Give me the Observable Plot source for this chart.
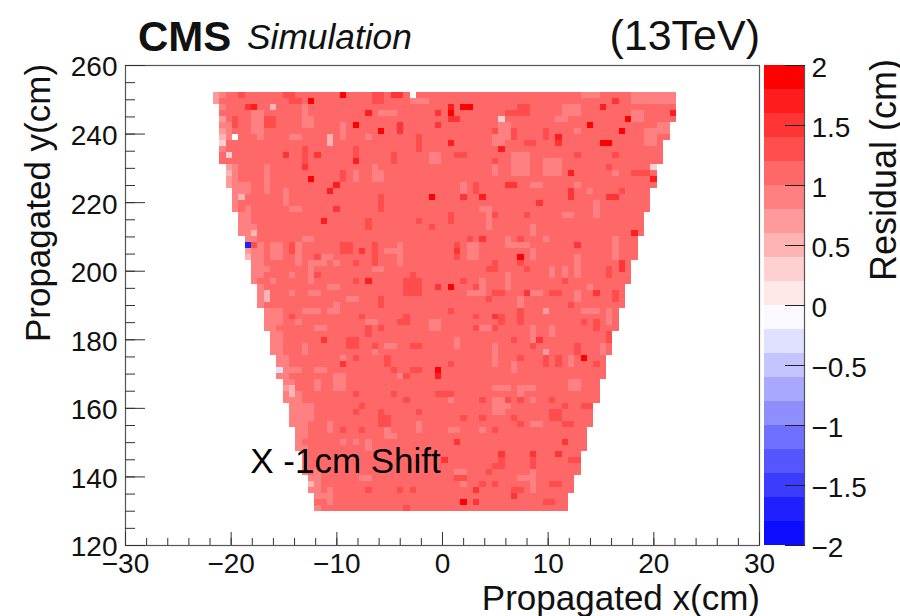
<!DOCTYPE html>
<html><head><meta charset="utf-8">
<script src="https://cdn.jsdelivr.net/npm/d3@7"></script>
<script src="https://cdn.jsdelivr.net/npm/@observablehq/plot@0.6"></script>
<style>
html,body{margin:0;background:#fff}
#c{position:relative;width:900px;height:616px;overflow:hidden;font-family:"Liberation Sans",Arial,sans-serif;color:#111}
#c svg{position:absolute;top:0;background:transparent}
#c span{position:absolute;white-space:nowrap;line-height:1}
</style></head><body><div id="c"></div>
<script>
// Heat-map cells. Rows run from the top; band d means residual 0.2*d .. 0.2*d+0.2.
const rowFirstCol=[0,0,1,1,1,1,1,1,1,1,1,1,2,2,2,2,3,3,3,3,4,4,4,4,5,5,5,5,6,6,6,6,7,7,7,7,8,8,8,8,9,9,9,9,10,10,10,10,11,11,11,11,12,12,12,12,13,13,13,13,14,14,14,14,15,15,15,16,16,16];
const rowEndCol=[73,73,73,73,73,72,72,72,71,71,71,71,70,70,70,70,69,69,69,69,68,68,68,68,67,67,67,67,66,66,66,66,65,65,65,65,64,64,64,64,63,63,63,63,62,62,62,62,61,61,61,61,60,60,60,60,59,59,59,59,58,58,58,58,57,57,57,56,56,56];
const baseBand=5;
// The first cells of each row, which are paler at the left edge.
const rowEdges=["34","35","45","55","35","34","34","24","25","45","55","55","34","24","34","34","45","44","45","45","44","44","44","44","44","46","34","34","44","44","44","45","45","44","45","45","44","44","44","44","44","44","44","44","44","44","44","44","44","34","44","44","44","44","444","444","44","44","45","44","45","45","45","45","45","44","44","45","55","45"];
// Paler and deeper patches: [first row, last row, first column, last column]
const paleRuns=[[2,4,14,14],[3,6,6,6],[3,7,7,7],[4,5,14,15],[7,7,12,13],[5,5,1,2],[15,16,4,5],[12,16,8,8],[16,18,11,11],[12,13,25,25],[13,14,25,26],[13,14,22,22],[7,7,24,24],[5,7,20,20],[19,19,5,5],[22,22,6,6],[3,3,26,27],[19,19,12,13],[10,11,34,35],[1,1,31,33],[3,3,28,28],
[5,7,45,46],[4,4,54,55],[2,3,55,57],[6,6,57,57],[7,8,44,45],[6,8,68,69],[10,13,47,49],[11,13,52,54],[12,13,44,44],[15,17,39,39],[15,15,57,57],[15,15,50,51],[17,17,63,63],[18,20,60,60],[20,22,43,43],[19,19,42,43],[20,20,55,56],[13,13,63,63],[16,16,59,59],[22,23,50,50],[0,0,58,60],[0,1,66,72],[3,4,66,67],[5,6,70,71],
[24,24,14,15],[25,28,7,7],[25,27,9,10],[25,28,13,13],[26,26,27,29],[25,28,29,29],[27,27,17,18],[28,28,16,17],[28,28,19,19],[28,31,15,15],[29,29,7,8],[30,30,12,12],[29,29,25,26],[31,31,9,9],[32,32,18,19],[33,33,15,16],[33,33,12,12],[34,34,21,22],[35,36,19,19],[36,36,14,16],[36,36,18,18],[36,38,9,10],[38,38,13,13],[39,39,16,17],[38,38,24,25],[38,39,34,35],[41,41,10,10],[42,43,14,14],[44,44,20,20],[43,43,25,25],[42,42,27,28],[46,46,16,17],[46,46,12,13],
[25,27,40,41],[24,24,46,46],[25,25,46,49],[26,27,50,50],[24,24,52,52],[27,30,57,57],[29,30,53,53],[29,30,55,55],[30,32,46,46],[31,33,42,42],[33,33,40,42],[33,33,50,51],[33,34,57,57],[32,32,59,59],[34,36,48,48],[39,39,42,43],[39,40,50,50],[39,40,53,53],[42,45,44,44],[45,46,47,47],[44,45,56,56],[41,42,50,50],[41,42,38,38],[42,43,61,61],[36,38,62,62],[24,27,63,63],[36,36,58,60],
[47,49,19,20],[48,49,16,16],[50,51,13,13],[52,54,14,15],[55,56,18,18],[55,56,27,27],[55,56,32,32],[64,64,23,24],[47,47,29,30],[67,67,16,17],[66,68,18,18],[58,58,20,20],[58,58,22,22],[58,59,24,24],[57,57,27,28],[63,65,16,16],
[49,49,44,46],[49,49,48,50],[50,50,48,48],[51,52,44,46],[53,53,44,45],[51,51,50,50],[51,51,37,37],[48,49,56,57],[56,56,37,38],[56,56,42,42],[55,55,50,51],[62,63,50,50],[64,64,48,50],[63,63,38,39],[65,66,50,50],[65,65,39,39]];
const deepRuns=[[4,5,3,3],[4,5,8,9],[0,0,4,4],[0,0,11,12],[1,1,12,13],[9,11,14,14],[9,10,22,22],[10,11,28,28],[0,1,25,26],[7,9,32,32],[13,14,20,20],[21,22,24,24],[21,21,32,32],[22,22,34,34],[17,19,26,26],
[2,3,48,49],[3,3,46,48],[6,6,44,44],[6,7,47,47],[8,8,49,50],[6,7,52,52],[10,10,38,39],[11,11,44,44],[15,16,41,41],[20,21,37,37],[20,20,44,44],[20,20,49,49],[10,10,57,57],[10,10,63,63],[12,12,62,62],[13,13,66,67],[13,13,68,68],[16,16,64,64],
[25,26,12,12],[27,27,16,16],[25,26,20,21],[25,28,25,25],[28,28,22,22],[30,30,16,16],[30,30,31,31],[31,31,22,22],[31,33,30,32],[34,35,26,26],[37,37,12,12],[38,38,29,29],[37,37,23,23],[37,38,30,30],[39,40,24,24],[39,39,26,26],[41,42,21,22],[42,42,31,32],[42,42,25,25],[44,45,27,27],[44,44,22,22],[46,46,31,32],[46,46,28,28],
[25,27,38,38],[24,24,40,40],[24,24,48,48],[28,29,44,44],[28,28,48,48],[29,29,49,49],[29,30,62,62],[29,29,43,43],[31,31,55,55],[31,31,39,39],[32,32,41,41],[33,33,44,45],[34,34,43,43],[33,33,53,54],[35,35,56,56],[33,34,63,63],[36,36,37,37],[37,37,41,41],[37,38,45,45],[36,38,48,48],[38,38,58,58],[38,39,60,60],[39,39,44,44],[39,39,41,41],[41,41,47,47],[45,45,37,37],[44,45,54,54],[44,45,52,52],[42,43,57,57],[42,42,50,50],[40,41,62,62],[44,44,48,48],[45,45,60,60],
[56,56,23,23],[53,54,26,26],[54,55,26,27],[53,53,32,32],[56,56,20,20],[53,53,22,22],[52,52,23,23],[47,47,30,30],[51,51,30,30],[69,69,30,30],[50,50,22,22],[50,50,28,28],[50,50,35,35],[66,66,24,24],[66,66,29,29],[66,66,31,31],
[50,50,36,37],[51,51,42,42],[51,51,46,46],[51,51,48,48],[51,51,53,53],[52,52,55,55],[52,52,58,59],[53,54,53,54],[54,54,39,39],[54,54,42,42],[54,54,47,47],[55,55,55,56],[55,55,48,48],[56,56,44,44],[60,62,45,45],[62,62,44,45],[61,62,50,50],[61,61,56,57],[63,63,43,43],[64,64,38,39],[65,65,53,54],[65,65,42,42],[65,65,44,44],[66,66,47,48],[68,68,52,53]];
// Cells that stand out: [row, column, band]; negative bands are the blue cells.
const standoutCells=[[0,20,9],[1,15,9],[2,6,8],[2,5,7],[3,24,8],[5,22,9],[6,26,9],[0,28,7],[0,29,7],[2,9,2],[7,18,2],[8,18,2],[10,2,1],[7,1,2],[8,1,1],[10,11,7],[10,16,7],[11,22,8],[12,14,7],[14,15,9],[15,19,8],[16,18,8],[17,34,9],[17,4,2],[21,17,8],[19,19,7],[3,35,7],[5,35,7],[5,29,7],[6,29,7],
[3,37,9],[2,37,8],[2,39,9],[2,40,9],[4,37,7],[4,38,7],[4,45,1],[5,59,9],[4,65,9],[6,64,9],[7,54,8],[8,54,7],[8,61,9],[8,62,9],[8,37,8],[9,45,8],[2,61,8],[1,63,7],[3,72,8],[14,69,8],[13,56,8],[12,69,1],[17,42,8],[16,56,7],[17,56,7],[17,62,7],[17,63,7],[17,39,7],[15,46,7],[15,47,7],[18,51,7],[23,66,8],
[23,6,2],[25,5,-9],[27,5,2],[33,8,2],[34,8,2],[31,24,8],[26,23,7],[46,35,9],[47,35,8],[45,20,7],[41,17,7],[32,35,7],[46,10,-2],
[32,37,9],[27,48,9],[25,57,7],[24,42,7],[37,44,7],[33,49,7],[33,60,7],[44,58,9],[41,51,7],[26,38,7],[36,52,3],[43,52,3],[28,64,7],[29,64,7],
[49,12,2],[50,12,2],[65,15,2],[68,39,9],[66,41,7],[68,41,7],[58,38,7],[58,55,7],[60,45,7],[60,50,7],[60,54,7],[67,47,7],[61,36,7]];
const emptyCells=[[0,31],[7,3]];
const bandEdges=[-1.8,-1.6,-1.4,-1.2,-1,-0.8,-0.6,-0.4,-0.2,0,0.2,0.4,0.6,0.8,1,1.2,1.4,1.6,1.8];
const bandColors=["#0c0cff","#2020ff","#3c3cff","#5656ff","#7070ff","#8e8eff","#a8a8ff","#c4c4ff","#e0e0ff","#faf9ff","#ffe8e8","#ffd0d0","#ffb4b4","#ff9a9a","#ff8080","#ff6868","#ff4c4c","#ff3434","#ff1c1c","#ff0000"];
const xMajor=[-30,-20,-10,0,10,20,30];
const xMinor=d3.range(-30,31,2);
const yMajor=[120,140,160,180,200,220,240,260];
const yMinor=d3.range(120,261,5);
const zTicks=[-2,-1.5,-1,-0.5,0,0.5,1,1.5,2];

const xStart=-21.67,xStep=0.6,yTop=252,yStep=122/70;
const over=new Map(standoutCells.map(([r,c,b])=>[r+"_"+c,b]));
const empty=new Set(emptyCells.map(([r,c])=>r+"_"+c));
const inRuns=(runs,r,c)=>runs.some(([a,b,p,q])=>r>=a&&r<=b&&c>=p&&c<=q);
const cells=[];
rowFirstCol.forEach((first,r)=>{
  for(let c=first;c<rowEndCol[r];c++){
    const k=r+"_"+c; if(empty.has(k)) continue;
    const edge=rowEdges[r][c-first];
    let band=edge===undefined?baseBand:+edge;
    if(inRuns(paleRuns,r,c)) band=4;
    if(inRuns(deepRuns,r,c)) band=6;
    if(over.has(k)) band=over.get(k);
    cells.push({x1:xStart+c*xStep,x2:xStart+(c+1)*xStep,y1:yTop-(r+1)*yStep,y2:yTop-r*yStep,v:band*0.2+0.1});
  }
});
// pale cell beyond the left edge of row 2
cells.push({x1:xStart,x2:xStart+xStep,y1:yTop-3*yStep,y2:yTop-2*yStep,v:-0.1});

const colorScale={type:"threshold",domain:bandEdges,range:bandColors};
const font='"Liberation Sans",Arial,sans-serif';
const axisColor="#333";
const main=Plot.plot({
  width:900,height:616,marginLeft:125,marginRight:141,marginTop:65,marginBottom:71,
  style:{fontFamily:font,fontSize:"28px",background:"transparent",color:"#111"},
  x:{domain:[-30,30],axis:null},y:{domain:[120,260],axis:null},color:colorScale,
  marks:[
    Plot.rect(cells,{x1:"x1",x2:"x2",y1:"y1",y2:"y2",fill:"v",shapeRendering:"crispEdges"}),
    Plot.frame({stroke:"#555",strokeWidth:1.2}),
    Plot.axisX(xMinor,{anchor:"bottom",tickSize:-7,text:null,stroke:axisColor,label:null}),
    Plot.axisX(xMajor,{anchor:"bottom",tickSize:-13,text:null,stroke:axisColor,label:null}),
    Plot.axisY(yMinor,{anchor:"left",tickSize:-10,text:null,stroke:axisColor,label:null}),
    Plot.axisY(yMajor,{anchor:"left",tickSize:-20,text:null,stroke:axisColor,label:null}),
    Plot.text(xMajor,{x:d=>d,frameAnchor:"bottom",lineAnchor:"top",dy:8,text:d3.format("d"),fontSize:28,fill:"#111"}),
    Plot.text(yMajor,{y:d=>d,frameAnchor:"left",textAnchor:"end",dx:-8,dy:2,text:d3.format("d"),fontSize:28,fill:"#111"}),
    Plot.text(["X -1cm Shift"],{x:-18.2,y:144.3,text:d=>d,textAnchor:"start",fontSize:35,fill:"#000"})
  ]
});
const bands=bandColors.map((_,i)=>({lo:-2+i*0.2,hi:-2+(i+1)*0.2}));
const bar=Plot.plot({
  width:136,height:616,marginLeft:0,marginRight:96,marginTop:65,marginBottom:71,
  style:{fontFamily:font,fontSize:"28px",background:"transparent",color:"#111"},
  x:{domain:[0,1],axis:null},y:{domain:[-2,2],axis:null},color:colorScale,
  marks:[
    Plot.rect(bands,{x1:0,x2:1,y1:"lo",y2:"hi",fill:d=>(d.lo+d.hi)/2,shapeRendering:"crispEdges"}),
    Plot.ruleX([1],{stroke:"#555",strokeWidth:1.2}),
    Plot.axisY(zTicks,{anchor:"right",tickSize:-20,text:null,stroke:"#222",label:null}),
    Plot.text(zTicks,{y:d=>d,frameAnchor:"right",textAnchor:"start",dx:7,dy:3,text:d3.format(""),fontSize:28,fill:"#111"})
  ]
});
const root=document.getElementById("c");
root.appendChild(main);
bar.style.left="764px";
root.appendChild(bar);
function label(t,css){const s=document.createElement("span");s.textContent=t;s.style.cssText=css;root.appendChild(s);}
label("CMS","left:138px;top:16px;font-size:42px;font-weight:bold;color:#111");
label("Simulation","left:247px;top:19px;font-size:35.3px;font-style:italic;color:#111");
label("(13TeV)","right:140px;top:14px;font-size:43px;color:#111");
label("Propagated x(cm)","right:140px;top:580px;font-size:35px;color:#111");
label("Propagated y(cm)","left:37px;top:203px;font-size:35px;color:#111;transform:translate(-50%,-50%) rotate(-90deg)");
label("Residual (cm)","left:884px;top:170px;font-size:36px;line-height:.8;color:#111;transform:translate(-50%,-50%) rotate(-90deg)");
</script></body></html>
